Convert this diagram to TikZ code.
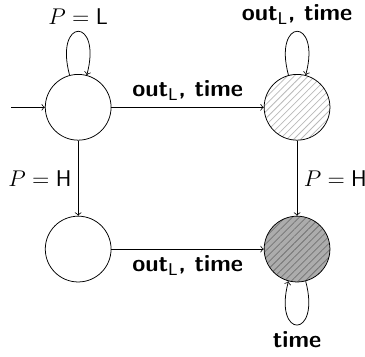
\documentclass[tikz,border=0pt]{standalone}
\usepackage{amsmath}
\usetikzlibrary{arrows.meta,automata,patterns.meta,positioning}

\tikzset{
  st/.style={circle, draw, minimum size=1.22cm, inner sep=0pt},
  lbl/.style={font=\fontsize{12.5}{15}\selectfont\sffamily\bfseries},
  hatchlight/.style={pattern={Lines[angle=45, distance=2.6pt, line width=0.4pt]}, pattern color=gray!55},
  hatchdark/.style={preaction={fill=gray!65}, pattern={Lines[angle=45, distance=2.6pt, line width=0.4pt]}, pattern color=gray!90!black},
  every loop/.style={min distance=6.5mm, looseness=9},
}
\newcommand{\outL}{out$_{\mathsf{L}}$}

\begin{document}
\begin{tikzpicture}[->, >=to, auto, font=\fontsize{12.5}{15}\selectfont\sffamily]
  \useasboundingbox (-1.45,-4.62) rectangle (5.32,1.99);

  % ====== states ======
  \node[st] (low) at (0,0) {};
  \node[st, hatchlight] (lowout) at (4.06,0) {};
  \node[st] (high) at (0,-2.63) {};
  \node[st, hatchdark] (highout) at (4.06,-2.63) {};

  % ====== initial arrow ======
  \coordinate[left=0.62cm of low] (init);
  \draw (init) -- (low);

  % ====== transitions ======
  \path (low) edge[loop above] node {$P=\mathsf{L}$} (low)
        (low) edge node[lbl] {\outL, time} (lowout)
        (low) edge node[swap] {$P=\mathsf{H}$} (high)
        (lowout) edge[loop above] node[lbl] {\outL, time} (lowout)
        (lowout) edge node {$P=\mathsf{H}$} (highout)
        (high) edge node[lbl, swap] {\outL, time} (highout)
        (highout) edge[loop below] node[lbl] {time} (highout);

\end{tikzpicture}
\end{document}
